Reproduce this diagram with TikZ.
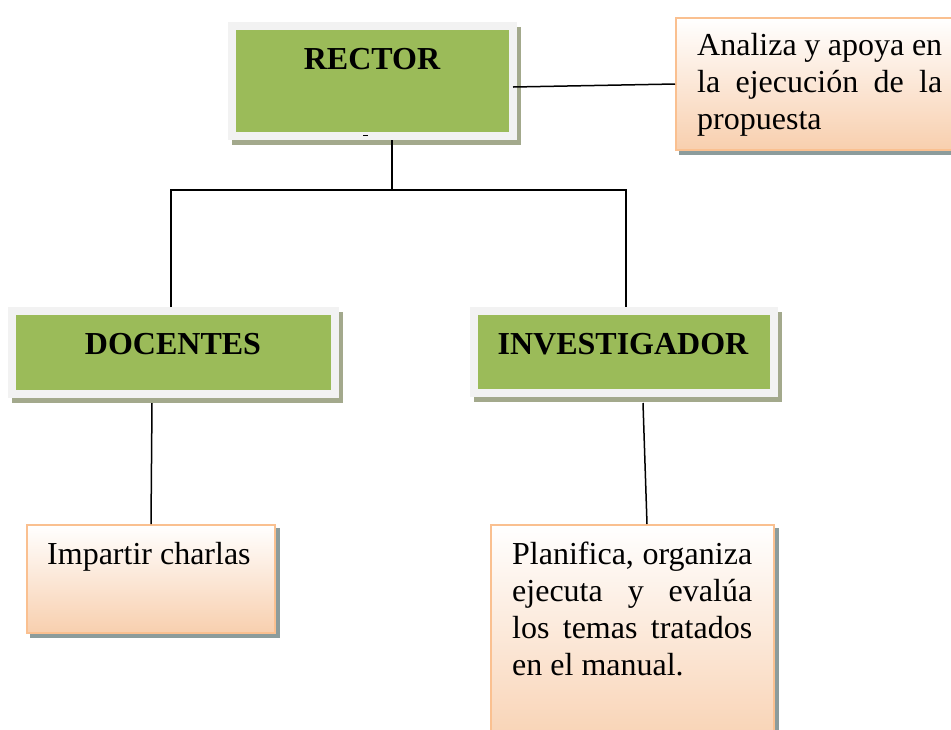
\documentclass[tikz,border=0pt]{standalone}
\usepackage{fontspec}
\setmainfont{Liberation Serif}
\usetikzlibrary{shadows}
\definecolor{gfill}{HTML}{9BBB59}
\definecolor{gframe}{HTML}{F2F2F2}
\definecolor{gshadow}{HTML}{A3A98C}
\definecolor{oborder}{HTML}{FAC090}
\definecolor{obot}{HTML}{F8CFAE}
\definecolor{oshadow}{HTML}{8C9C9C}
\begin{document}
\begin{tikzpicture}[x=1pt,y=-1pt,
  greenbox/.style={rectangle, inner sep=0pt, fill=gfill, draw=gframe, line width=8pt,
    drop shadow={shadow xshift=4pt, shadow yshift=-5pt, fill=gshadow, draw=gshadow, line width=8pt, opacity=1}},
  orangebox/.style={rectangle, inner sep=0pt, draw=oborder, line width=2pt, top color=white, bottom color=obot,
    drop shadow={shadow xshift=4pt, shadow yshift=-4pt, fill=oshadow, draw=oshadow, line width=2pt, opacity=1}},
  head/.style={inner sep=0pt, anchor=base, font=\fontsize{32}{37}\selectfont\bfseries},
  body/.style={inner sep=0pt, anchor=base west, font=\fontsize{32}{37}\selectfont},
  conn/.style={draw=black, line width=1.5pt}]
\useasboundingbox (0,0) rectangle (951,729);
\clip (0,0) rectangle (951,729);

% boxes
\node[greenbox, minimum width=281pt, minimum height=110pt] (rector) at (372.5,81) {};
\node[greenbox, minimum width=323pt, minimum height=83pt] (docentes) at (173.5,352.5) {};
\node[greenbox, minimum width=300pt, minimum height=82pt] (investigador) at (624,352) {};
\node[orangebox, minimum width=304pt, minimum height=132pt] (analiza) at (828,84) {};
\node[orangebox, minimum width=248pt, minimum height=108pt] (impartir) at (151,579) {};
\node[orangebox, minimum width=283pt, minimum height=235pt] (planifica) at (632.5,642.5) {};

% texts
\node[head] (trector) at (372,69) {RECTOR};
\node[head] (tdocentes) at (173,354) {DOCENTES};
\node[head] (tinvestigador) at (623,354) {INVESTIGADOR};
\node[body] (tanaliza) at (697,55) {\parbox[t]{245pt}{\makebox[245pt][s]{Analiza y apoya en}\\
  \makebox[245pt][s]{la ejecución de la}\\propuesta}};
\node[body] (timpartir) at (47,564) {Impartir charlas};
\node[body] (tplanifica) at (512,564) {\parbox[t]{240pt}{\makebox[240pt][s]{Planifica, organiza}\\
  \makebox[240pt][s]{ejecuta y evalúa}\\
  \makebox[240pt][s]{los temas tratados}\\en el manual.}};

% small mark under RECTOR
\coordinate (mk1) at (363,135.5);
\coordinate (mk2) at (368,135.5);
\draw[line width=1pt] (mk1) -- (mk2);

% connectors
\coordinate (jc) at (392,190);
\coordinate (jl) at (171,190);
\coordinate (jr) at (626,190);
\draw[conn] (rector.south -| jc) -- (jc);
\draw[conn] (docentes.north -| jl) -- (jl) -- (jr) -- (investigador.north -| jr);
\coordinate (ra) at (513,87);
\draw[conn] (ra) -- (analiza.west);
\coordinate (dd) at (152,403);
\draw[conn] (dd) -- (impartir.north);
\coordinate (ia) at (643,403);
\coordinate (pa) at (647,524);
\draw[conn] (ia) -- (pa);
\end{tikzpicture}
\end{document}
